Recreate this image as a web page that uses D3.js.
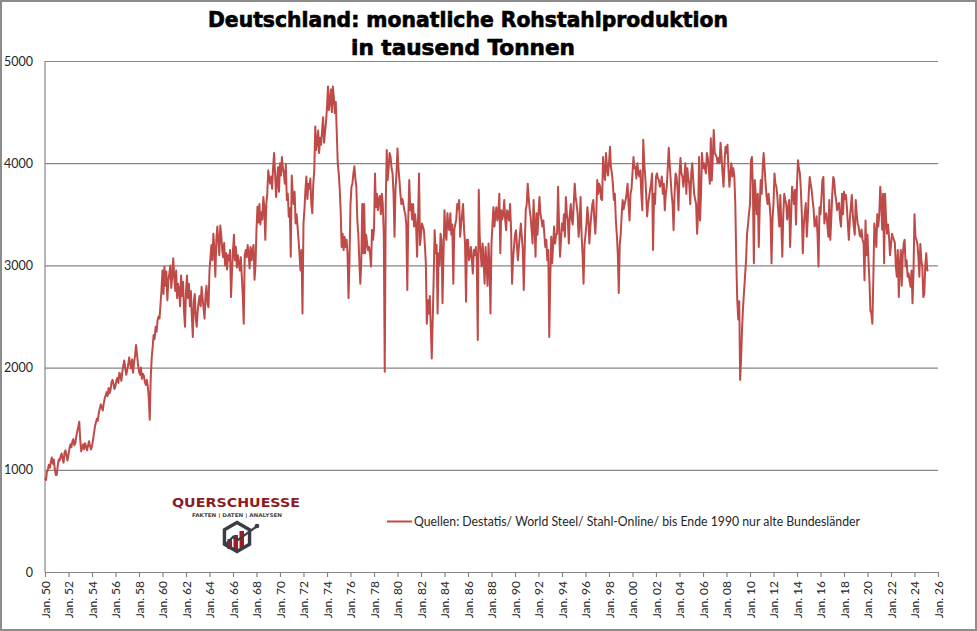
<!DOCTYPE html>
<html>
<head>
<meta charset="utf-8">
<script src="https://cdn.jsdelivr.net/npm/d3@7.9.0/dist/d3.min.js"></script>
<style>
  html, body { margin: 0; padding: 0; background: #fff; }
  svg { display: block; }
</style>
</head>
<body>
<svg id="chart" width="977" height="631"></svg>
<script>
// monthly crude steel output, thousand tonnes, one row per year (Jan..Dec)
const startYear = 1950;

const prod1950s = [
  920, 900, 980, 1000, 1050, 1020, 1080, 1120, 1060, 1100, 1010, 950,
  950, 1040, 1100, 1090, 1130, 1160, 1110, 1070, 1170, 1190, 1140, 1090,
  1150, 1210, 1250, 1220, 1280, 1300, 1240, 1260, 1330, 1380, 1420, 1470,
  1290, 1180, 1220, 1250, 1200, 1260, 1230, 1190, 1240, 1280, 1230, 1200,
  1230, 1290, 1350, 1420, 1460, 1500, 1480, 1560, 1600, 1640, 1610, 1580,
  1650, 1700, 1730, 1760, 1720, 1800, 1750, 1780, 1860, 1880, 1840, 1790,
  1820, 1880, 1900, 1850, 1950, 1930, 1870, 1960, 2020, 2070, 1990, 1930,
  1980, 2030, 2100, 2040, 1990, 2080, 1950, 2050, 2120, 2220, 2130, 2030,
  1960, 1930, 2000, 1890, 1940, 1920, 1860, 1830, 1880, 1820, 1700, 1490,
  1900, 2100, 2200, 2320, 2280, 2400, 2350, 2460, 2500, 2480, 2620, 2760
];
const prod1960s = [
  2950, 2720, 2990, 2800, 2940, 2660, 2850, 2920, 3000, 2780, 2900, 3070,
  2880, 2750, 2950, 2680, 2820, 2760, 2600, 2900, 2700, 2840, 2550, 2400,
  2750, 2900, 2680, 2820, 2600, 2750, 2500, 2300, 2650, 2720, 2480, 2400,
  2560, 2650, 2700, 2600, 2790, 2680, 2580, 2480, 2720, 2800, 2620, 2590,
  2950, 3080, 3200, 3050, 3310, 3150, 2890, 3250, 3380, 3240, 3100, 3390,
  3300, 3150, 3080, 3220, 3000, 3120, 2960, 3100, 3050, 3150, 2690, 2950,
  3150, 3300, 3050, 3180, 2980, 3100, 3020, 2950, 3080, 2900, 2700, 2430,
  3100, 3150, 3080, 3200, 3120, 2970, 3180, 3050, 3150, 3200, 2860, 3000,
  3350, 3575, 3420, 3600, 3400, 3520, 3450, 3670, 3560, 3250, 3600, 3700,
  3930, 3850, 3800, 3870, 3750, 3960, 4100, 3900, 3670, 3820, 3960, 3720
];
const prod1970s = [
  4000, 3880, 4060, 3950, 3900, 3800, 3990, 3640, 3700, 3475, 3560, 3085,
  3880, 3700, 3600, 3720, 3410, 3500, 3380, 3250, 3100, 2950, 3150, 2530,
  3410, 3550, 3740, 3870, 3650, 3800, 3750, 3850, 3600, 3510, 3800, 3930,
  4360, 4130, 4200, 4320, 4100, 4250, 4180, 4320, 4450, 4200, 4300, 4400,
  4550, 4750, 4520, 4600, 4720, 4500, 4750, 4650, 4490, 4600, 4300, 4000,
  3900, 3740, 3540, 3180, 3310, 3150, 3280, 3180, 3250, 3120, 2680, 3050,
  3600, 3770, 3800, 3900, 3970, 3850, 3770, 3440, 3300, 3050, 2820, 3020,
  3600, 3120, 3600, 3120, 3300, 3215, 3150, 3180, 3100, 2990, 3350, 3250,
  3350, 3900, 3570, 3700, 3540, 3650, 3680, 3500, 3700, 3600, 3300, 1960,
  3600, 4130, 3835, 3950, 4100, 4060, 3950, 3900, 3700, 3280, 3750, 3900
];
const prod1980s = [
  4145, 3950, 3835, 3700, 3600, 3650, 3600, 3540, 3500, 3400, 2760, 3450,
  3835, 3540, 3600, 3450, 3600, 3380, 3500, 3400, 3085, 3450, 3900, 3200,
  3300, 3410, 3380, 3345, 3200, 3020, 2430, 2660, 2530, 2700, 2400, 2090,
  2470, 2900, 3345, 3120, 3200, 2530, 3120, 3000, 3310, 3250, 2630, 3100,
  3540, 3310, 3250, 3510, 3380, 3345, 3510, 3300, 3400, 2820, 3350, 3400,
  3450, 3600, 3550, 3640, 3280, 3400, 3500, 3600, 3350, 3215, 2645, 3250,
  3250, 3050, 3100, 3180, 3050, 2920, 3150, 3100, 3180, 3050, 2270, 3740,
  3280, 3100, 2990, 3215, 3050, 2820, 3180, 3000, 2800, 3215, 3000, 2530,
  3215, 3400, 3570, 3380, 3500, 3570, 3440, 3500, 3700, 3120, 3540, 3450,
  3500, 3640, 3450, 3345, 3540, 3500, 3440, 3600, 3350, 2820, 3050, 3180
];
const prod1990s = [
  3300, 3345, 3200, 3050, 3180, 3300, 3410, 3280, 3150, 2760, 3200, 3540,
  3600, 3800, 3670, 3550, 3475, 3350, 3215, 3640, 3400, 3085, 3510, 3300,
  3500, 3670, 3510, 3450, 3380, 3440, 3300, 3180, 3250, 3050, 3150, 2300,
  2870, 3280, 3020, 3200, 3380, 3215, 3300, 3310, 3770, 3400, 3085, 3250,
  3410, 3345, 3500, 3280, 3670, 3500, 3440, 3215, 3500, 3600, 3450, 3400,
  3600, 3800, 3670, 3600, 3510, 3280, 3400, 3670, 3300, 3120, 2820, 3200,
  3300, 3410, 3570, 3450, 3215, 3380, 3500, 3600, 3640, 3450, 3310, 3500,
  3835, 3700, 3800, 3770, 3650, 3640, 4060, 3900, 3835, 4100, 3950, 3880,
  4000, 4160, 3965, 3900, 3800, 3640, 3700, 3450, 3300, 3120, 2730, 3200,
  3310, 3500, 3640, 3550, 3600, 3640, 3700, 3800, 3600, 3440, 3700, 3750
];
const prod2000s = [
  3900, 4060, 3950, 3965, 3850, 4000, 3900, 3870, 3930, 3700, 3540, 4230,
  4000, 3870, 3700, 3480, 3600, 3670, 3740, 3800, 3900, 3150, 3700, 3600,
  3870, 3900, 3850, 3835, 3770, 3800, 3870, 3700, 3800, 3540, 3700, 3770,
  3950, 4150, 4000, 3850, 3700, 3600, 3345, 3700, 3900, 3870, 3750, 3540,
  3900, 4050, 3900, 3870, 3770, 3870, 4000, 3700, 3950, 3850, 3800, 3600,
  3900, 4000, 3850, 3700, 3650, 3600, 3310, 3500, 4060, 3440, 3700, 4100,
  3950, 4000, 3950, 3900, 4100, 4050, 3940, 3800, 4245, 3830, 4050, 4325,
  4100, 4080, 4060, 4000, 4050, 4000, 4200, 4060, 3900, 3770, 4000, 4160,
  4100, 4180, 3950, 3770, 3900, 4000, 3870, 3950, 3870, 3600, 3050, 2660,
  2470, 2650, 1880, 2100, 2400, 2600, 2750, 2900, 3050, 3310, 3400, 3510
];
const prod2010s = [
  3600, 4030, 4060, 3770, 3020, 3835, 3670, 3500, 3700, 3180, 3600, 3835,
  3700, 3965, 4100, 3950, 3800, 3670, 3600, 3700, 3600, 3475, 3020, 3450,
  3600, 3900, 3800, 3770, 3670, 3500, 3380, 3690, 3400, 3085, 3500, 3700,
  3640, 3600, 3450, 3550, 3640, 3180, 3475, 3770, 3700, 3600, 3740, 3400,
  3800, 4030, 3950, 3900, 3740, 3500, 3120, 3400, 3510, 3610, 3280, 3450,
  3710, 3865, 3800, 3740, 3640, 3550, 3380, 3400, 3480, 3300, 2990, 3570,
  3500, 3670, 3835, 3865, 3410, 3500, 3510, 3400, 3280, 3640, 3250, 3450,
  3700, 3865, 3835, 3700, 3640, 3540, 3600, 3610, 3450, 3380, 3700, 3500,
  3720, 3650, 3690, 3570, 3400, 3250, 3450, 3570, 3690, 3500, 3380, 3300,
  3640, 3500, 3410, 3380, 3300, 3280, 3350, 3250, 3220, 2855, 3440, 3100
];
const prod2020s = [
  3300, 3050, 2855, 2560, 2530, 2430, 2870, 3410, 3310, 3180, 3500, 3380,
  3500, 3770, 3640, 3350, 3700, 3020, 3700, 3450, 3310, 3400, 3280, 3100,
  3200, 3310, 3280, 3250, 3220, 2990, 2890, 3150, 2690, 3000, 3150, 2800,
  3100, 3215, 3250, 2990, 3050, 2890, 2920, 2850, 2790, 2950, 2630, 2920,
  3500, 3280, 3250, 3210, 3085, 2890, 3210, 3050, 2990, 2690, 2720, 3000,
  3120, 2950, 2960
];

const yTicks = [0, 1000, 2000, 3000, 4000, 5000];
const xTickYears = [1950, 1952, 1954, 1956, 1958, 1960, 1962, 1964, 1966, 1968,
  1970, 1972, 1974, 1976, 1978, 1980, 1982, 1984, 1986, 1988, 1990, 1992, 1994,
  1996, 1998, 2000, 2002, 2004, 2006, 2008, 2010, 2012, 2014, 2016, 2018, 2020,
  2022, 2024, 2026];
const xTickLabels = ["Jan. 50", "Jan. 52", "Jan. 54", "Jan. 56", "Jan. 58",
  "Jan. 60", "Jan. 62", "Jan. 64", "Jan. 66", "Jan. 68", "Jan. 70", "Jan. 72",
  "Jan. 74", "Jan. 76", "Jan. 78", "Jan. 80", "Jan. 82", "Jan. 84", "Jan. 86",
  "Jan. 88", "Jan. 90", "Jan. 92", "Jan. 94", "Jan. 96", "Jan. 98", "Jan. 00",
  "Jan. 02", "Jan. 04", "Jan. 06", "Jan. 08", "Jan. 10", "Jan. 12", "Jan. 14",
  "Jan. 16", "Jan. 18", "Jan. 20", "Jan. 22", "Jan. 24", "Jan. 26"];

const titleLines = ["Deutschland: monatliche Rohstahlproduktion", "in tausend Tonnen"];
const legendText = "Quellen: Destatis/ World Steel/ Stahl-Online/ bis Ende 1990 nur alte Bundesländer";

const production = [].concat(prod1950s, prod1960s, prod1970s, prod1980s,
  prod1990s, prod2000s, prod2010s, prod2020s);
const dates = production.map((v, i) => new Date(startYear, i, 1));

const lineColor = '#BE4B48';
const gridColor = '#868686';
const labelFont = 'Lato, "Open Sans", sans-serif';

const svg = d3.select('#chart');

// frame round the whole picture
svg.append('rect')
  .attr('x', 1).attr('y', 1).attr('width', 975).attr('height', 629)
  .attr('fill', '#fff').attr('stroke', '#8c8c8c').attr('stroke-width', 2);

const x = d3.scaleTime()
  .domain([new Date(1950, 0, 1), new Date(2026, 0, 1)])
  .range([45, 938]);
const y = d3.scaleLinear().domain([0, 5000]).range([572, 61]);

// gridlines + y labels
const yAxis = svg.append('g')
  .attr('transform', 'translate(45,0)')
  .call(d3.axisLeft(y).tickValues(yTicks).tickSize(-(938 - 45)).tickPadding(12).tickFormat(d3.format('d')));
yAxis.select('.domain').remove();
yAxis.selectAll('.tick line').attr('stroke', gridColor).attr('stroke-width', 1.2);
yAxis.selectAll('.tick text')
  .style('font-family', labelFont).style('font-size', '12.5px').attr('fill', '#262626');

// vertical axis line
svg.append('line')
  .attr('x1', 45).attr('x2', 45).attr('y1', y(5000)).attr('y2', y(0))
  .attr('stroke', gridColor).attr('stroke-width', 1.2);

// x axis
const xAxis = svg.append('g')
  .attr('transform', 'translate(0,572)')
  .call(d3.axisBottom(x)
    .tickValues(xTickYears.map(yr => new Date(yr, 0, 1)))
    .tickSize(5)
    .tickSizeOuter(0)
    .tickFormat((d, i) => xTickLabels[i]));
xAxis.select('.domain').attr('stroke', gridColor).attr('stroke-width', 1.2);
xAxis.selectAll('.tick line').attr('stroke', gridColor).attr('stroke-width', 1.2);
xAxis.selectAll('.tick text')
  .attr('transform', 'rotate(-90)')
  .attr('x', -9).attr('y', 0).attr('dy', '0.35em')
  .style('text-anchor', 'end')
  .style('font-family', labelFont).style('font-size', '12px').attr('fill', '#262626');

// data line
const line = d3.line()
  .x((d, i) => x(dates[i]))
  .y(d => y(d));
svg.append('path')
  .datum(production)
  .attr('d', line)
  .attr('fill', 'none')
  .attr('stroke', lineColor)
  .attr('stroke-width', 2)
  .attr('stroke-linejoin', 'round');

// title (heavy face, faked a little with a thin stroke)
svg.append('text')
  .attr('x', 208).attr('y', 27)
  .attr('textLength', 520).attr('lengthAdjust', 'spacingAndGlyphs')
  .style('font-family', '"DejaVu Sans", sans-serif').style('font-weight', 'bold').style('font-size', '22px')
  .attr('stroke', '#000').attr('stroke-width', 0.7)
  .text(titleLines[0]);
svg.append('text')
  .attr('x', 351).attr('y', 55)
  .attr('textLength', 224).attr('lengthAdjust', 'spacingAndGlyphs')
  .style('font-family', '"DejaVu Sans", sans-serif').style('font-weight', 'bold').style('font-size', '22px')
  .attr('stroke', '#000').attr('stroke-width', 0.7)
  .text(titleLines[1]);

// legend
svg.append('line')
  .attr('x1', 387).attr('x2', 412).attr('y1', 521.5).attr('y2', 521.5)
  .attr('stroke', lineColor).attr('stroke-width', 2);
svg.append('text')
  .attr('x', 414).attr('y', 526)
  .attr('textLength', 446).attr('lengthAdjust', 'spacingAndGlyphs')
  .style('font-family', labelFont).style('font-size', '13px').attr('fill', '#262626')
  .text(legendText);

// logo
const logo = svg.append('g');
logo.append('text')
  .attr('x', 172).attr('y', 507)
  .attr('textLength', 128).attr('lengthAdjust', 'spacingAndGlyphs')
  .style('font-family', '"DejaVu Sans", sans-serif').style('font-weight', 'bold').style('font-size', '12.5px')
  .attr('fill', '#8E1B22')
  .text('QUERSCHUESSE');
logo.append('text')
  .attr('x', 192).attr('y', 516.5)
  .attr('textLength', 90).attr('lengthAdjust', 'spacingAndGlyphs')
  .style('font-family', '"DejaVu Sans", sans-serif').style('font-weight', 'bold').style('font-size', '5px')
  .attr('fill', '#444')
  .text('FAKTEN | DATEN | ANALYSEN');
const hexPts = d3.range(6).map(k => {
  const a = (Math.PI / 3) * k - Math.PI / 2;
  return [237 + 14.5 * Math.cos(a), 537 + 14.5 * Math.sin(a)];
});
logo.append('rect').attr('x', 227.5).attr('y', 539).attr('width', 4.5).attr('height', 10).attr('fill', '#9E1B22');
logo.append('rect').attr('x', 233.5).attr('y', 535).attr('width', 4.5).attr('height', 15).attr('fill', '#9E1B22');
logo.append('rect').attr('x', 239.5).attr('y', 531).attr('width', 4.5).attr('height', 17).attr('fill', '#9E1B22');
logo.append('path')
  .attr('d', d3.line().curve(d3.curveLinearClosed)(hexPts))
  .attr('fill', 'none').attr('stroke', '#3b3d45').attr('stroke-width', 3.4);
logo.append('path')
  .attr('d', 'M225,545 L233,537 L238,540 L256,527')
  .attr('fill', 'none').attr('stroke', '#3b3d45').attr('stroke-width', 2.2);
logo.append('circle').attr('cx', 257).attr('cy', 526).attr('r', 2.3).attr('fill', '#3b3d45');
</script>
</body>
</html>
